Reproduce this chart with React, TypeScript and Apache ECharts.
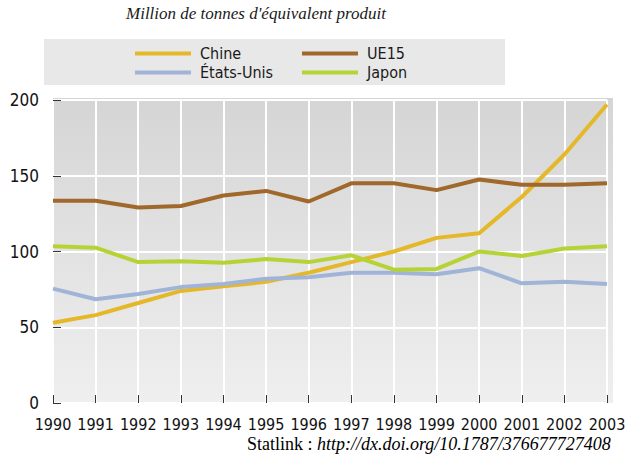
import React, { useEffect, useRef } from "react";
import * as echarts from "echarts";

const years = ["1990","1991","1992","1993","1994","1995","1996","1997","1998","1999","2000","2001","2002","2003"];
const chine = [53, 58, 66, 74, 77, 80, 86, 93, 100, 109, 112, 136, 164, 197];
const ue15 = [133.5, 133.5, 129, 130, 137, 140, 133, 145, 145, 140.5, 147.5, 144, 144, 145];
const etatsUnis = [75.5, 68.5, 72, 76.5, 78.5, 82, 83, 86, 86, 85, 89, 79, 80, 78.5];
const japon = [103.5, 102.5, 93, 93.5, 92.5, 95, 93, 97.5, 88, 88.5, 100, 97, 102, 103.5];
const yTicks = [0, 50, 100, 150, 200];

const NARROW = "'Liberation Sans Narrow', 'DejaVu Sans Condensed', sans-serif";
const SERIF = "'Liberation Serif', 'DejaVu Serif', serif";

const colors = {
  chine: "#e5b829",
  ue15: "#a0682b",
  us: "#a0b4d8",
  japon: "#b6d335",
};

export default function App() {
  const ref = useRef<HTMLDivElement>(null);
  useEffect(() => {
    if (!ref.current) return;
    const chart = echarts.init(ref.current, null, { renderer: "svg" });
    const mk = (name: string, data: number[], color: string) => ({
      name,
      type: "line",
      data,
      symbol: "none",
      color,
      lineStyle: { width: 4, color },
      z: 3,
    });
    const legendBase = {
      orient: "vertical",
      top: 45,
      padding: 0,
      itemGap: 2,
      itemWidth: 56,
      itemHeight: 4,
      icon: "rect",
      textStyle: { fontFamily: NARROW, fontSize: 16, color: "#1a1a1a", lineHeight: 17, padding: [0, 0, 0, 4] },
    };
    chart.setOption({
      animation: false,
      backgroundColor: "#ffffff",
      graphic: [
        {
          type: "rect",
          shape: { x: 44, y: 39, width: 461, height: 46 },
          style: { fill: "#e8e8e8" },
          z: -10,
        },
        {
          type: "rect",
          shape: { x: 53, y: 98, width: 560, height: 305 },
          style: {
            fill: new echarts.graphic.LinearGradient(0, 0, 0, 1, [
              { offset: 0, color: "#d5d5d5" },
              { offset: 1, color: "#efefef" },
            ]),
          },
          z: -10,
        },
        {
          type: "text",
          left: 126,
          top: 5,
          style: {
            text: "Million de tonnes d'équivalent produit",
            font: "italic 17px " + SERIF,
            fill: "#1a1a1a",
          },
        },
        {
          type: "text",
          left: 247,
          top: 435,
          style: {
            text: "{a|Statlink : }{b|http://dx.doi.org/10.1787/376677727408}",
            rich: {
              a: { fontFamily: SERIF, fontSize: 18, color: "#1a1a1a" },
              b: { fontFamily: SERIF, fontSize: 18, fontStyle: "italic", color: "#1a1a1a" },
            },
          },
        },
      ],
      legend: [
        { ...legendBase, data: ["Chine", "États-Unis"], left: 135 },
        { ...legendBase, data: ["UE15", "Japon"], left: 302 },
      ],
      grid: { left: 53, right: 28, top: 100, bottom: 54, containLabel: false },
      xAxis: {
        type: "category",
        data: years,
        boundaryGap: false,
        axisLine: { show: false },
        axisTick: { show: true, inside: true, length: 8, lineStyle: { color: "#333", width: 1 }, interval: 0 },
        axisLabel: { interval: 0, margin: 13, fontFamily: NARROW, fontSize: 16, color: "#111" },
        splitLine: { show: true, interval: 0, lineStyle: { color: "#ffffff", width: 2 } },
      },
      yAxis: {
        type: "value",
        min: yTicks[0],
        max: yTicks[yTicks.length - 1],
        interval: 50,
        axisLine: { show: false },
        axisTick: { show: true, inside: true, length: 8, lineStyle: { color: "#333", width: 1 } },
        axisLabel: { margin: 14, fontFamily: NARROW, fontSize: 17, color: "#111" },
        splitLine: { show: true, lineStyle: { color: "#ffffff", width: 2 } },
      },
      series: [
        mk("Chine", chine, colors.chine),
        mk("UE15", ue15, colors.ue15),
        mk("États-Unis", etatsUnis, colors.us),
        mk("Japon", japon, colors.japon),
      ],
    });
    return () => chart.dispose();
  }, []);
  return (
    <div
      ref={ref}
      style={{ position: "fixed", left: 0, top: 0, width: 635, height: 457 }}
    />
  );
}
